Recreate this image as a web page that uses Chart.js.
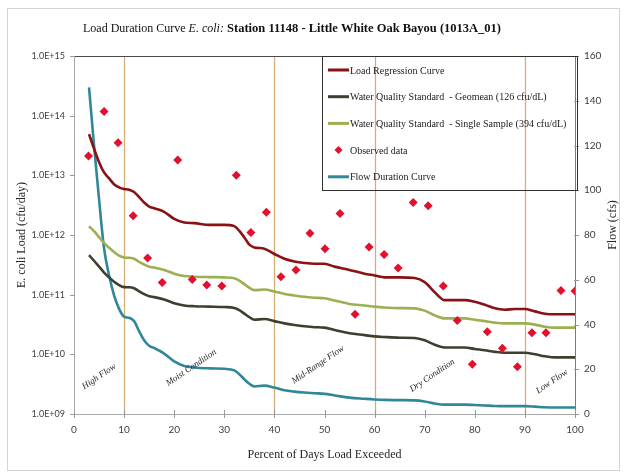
<!DOCTYPE html>
<html>
<head>
<meta charset="utf-8">
<script src="https://cdn.jsdelivr.net/npm/chart.js@4.4.1/dist/chart.umd.min.js"></script>
<style>
  html, body { margin: 0; padding: 0; background: #ffffff; }
  #wrap { position: relative; width: 625px; height: 472px; }
</style>
</head>
<body>
<div id="wrap"><canvas id="ldc" width="625" height="472"></canvas></div>
<script>
// Percent of days exceeded at which the duration curves are tabulated
const percentExceeded = [3, 4, 5, 6, 7, 8, 9, 10, 11, 12, 13, 14, 15, 16, 18, 20, 22, 24, 27, 30,
  32, 33, 34, 35, 36, 38, 40, 42, 44, 46, 48, 50, 52, 55, 58, 60, 62, 65, 68, 70,
  72, 74, 76, 78, 80, 82, 84, 86, 88, 90, 92, 94, 96, 100];

// Load regression curve (cfu/day)
const regressionLoad = [4.9e13, 2.8e13, 1.66e13, 1.12e13, 8.9e12, 7.1e12, 6.3e12, 5.9e12, 5.75e12, 5.25e12,
  4.3e12, 3.5e12, 3.0e12, 2.8e12, 2.45e12, 1.86e12, 1.62e12, 1.58e12, 1.48e12, 1.48e12,
  1.41e12, 1.17e12, 9.1e11, 6.9e11, 6.2e11, 5.9e11, 4.8e11, 4.0e11, 3.6e11, 3.4e11,
  3.3e11, 3.3e11, 2.95e11, 2.6e11, 2.24e11, 2.1e11, 1.95e11, 1.95e11, 1.9e11, 1.62e11,
  1.1e11, 8.1e10, 8.1e10, 8.1e10, 7.6e10, 6.8e10, 5.9e10, 5.6e10, 5.75e10, 5.75e10,
  5.25e10, 4.8e10, 4.7e10, 4.7e10];

// Allowable load at the geometric mean standard, 126 cfu/dL (cfu/day)
const geomeanLoad = [4.6e11, 3.7e11, 2.95e11, 2.35e11, 1.95e11, 1.65e11, 1.45e11, 1.34e11, 1.33e11, 1.28e11,
  1.14e11, 1.02e11, 9.4e10, 9.1e10, 8.3e10, 7.2e10, 6.6e10, 6.4e10, 6.3e10, 6.2e10,
  6.0e10, 5.5e10, 4.8e10, 4.2e10, 3.8e10, 3.9e10, 3.6e10, 3.3e10, 3.1e10, 2.95e10,
  2.85e10, 2.8e10, 2.55e10, 2.25e10, 2.1e10, 2.0e10, 1.95e10, 1.9e10, 1.88e10, 1.72e10,
  1.45e10, 1.3e10, 1.3e10, 1.3e10, 1.23e10, 1.17e10, 1.1e10, 1.06e10, 1.06e10, 1.06e10,
  1.0e10, 9.3e9, 8.9e9, 8.9e9];

// Allowable load at the single sample standard, 394 cfu/dL (cfu/day)
const singleSampleLoad = [1.4e12, 1.16e12, 9.2e11, 7.3e11, 6.1e11, 5.2e11, 4.5e11, 4.2e11, 4.15e11, 4.0e11,
  3.55e11, 3.2e11, 2.95e11, 2.85e11, 2.6e11, 2.25e11, 2.05e11, 2.0e11, 1.97e11, 1.95e11,
  1.88e11, 1.72e11, 1.5e11, 1.3e11, 1.19e11, 1.22e11, 1.13e11, 1.03e11, 9.7e10, 9.2e10,
  8.9e10, 8.7e10, 8.0e10, 7.0e10, 6.6e10, 6.3e10, 6.1e10, 5.95e10, 5.9e10, 5.4e10,
  4.5e10, 4.0e10, 4.0e10, 4.0e10, 3.8e10, 3.6e10, 3.4e10, 3.3e10, 3.3e10, 3.3e10,
  3.15e10, 2.9e10, 2.8e10, 2.8e10];

// Flow duration curve (cfs)
const flowCfs = [146, 120, 96, 74, 62, 53, 47, 43.5, 43, 41.5,
  37, 33, 30.5, 29.5, 27, 23.5, 21.5, 20.8, 20.4, 20.2,
  19.5, 17.8, 15.5, 13.5, 12.3, 12.7, 11.8, 10.6, 10.0, 9.6,
  9.3, 9.0, 8.3, 7.3, 6.8, 6.5, 6.3, 6.2, 6.1, 5.6,
  4.7, 4.2, 4.2, 4.2, 4.0, 3.8, 3.6, 3.5, 3.5, 3.5,
  3.3, 3.0, 2.9, 2.9];

// Observed E. coli loads
const observedPct = [2.9, 6.0, 8.8, 11.8, 14.7, 17.6, 20.7, 23.6, 26.5, 29.5,
  32.4, 35.3, 38.4, 41.3, 44.3, 47.1, 50.1, 53.1, 56.1, 58.9,
  61.9, 64.7, 67.7, 70.7, 73.7, 76.5, 79.5, 82.5, 85.5, 88.5,
  91.4, 94.2, 97.2, 100];
const observedLoad = [2.1e13, 1.17e14, 3.5e13, 2.1e12, 4.1e11, 1.6e11, 1.8e13, 1.8e11, 1.45e11, 1.4e11,
  1.0e13, 1.1e12, 2.4e12, 2.0e11, 2.6e11, 1.07e12, 5.9e11, 2.3e12, 4.7e10, 6.3e11,
  4.7e11, 2.8e11, 3.5e12, 3.1e12, 1.4e11, 3.7e10, 6.8e9, 2.4e10, 1.26e10, 6.2e9,
  2.3e10, 2.3e10, 1.18e11, 1.15e11];

// Axis ticks
const loadTicks = [1e9, 1e10, 1e11, 1e12, 1e13, 1e14, 1e15];
const flowTicks = [0, 20, 40, 60, 80, 100, 120, 140, 160];
const pctTicks = [0, 10, 20, 30, 40, 50, 60, 70, 80, 90, 100];

// Flow regime boundaries and names
const zoneBounds = [10, 40, 60, 90];
const zoneNames = ['High Flow', 'Moist Condition', 'Mid-Range Flow', 'Dry Condition', 'Low Flow'];

const SERIF = '"Liberation Serif", "Times New Roman", serif';
const SANS = 'Lato, "Liberation Sans", sans-serif';

const pairs = (xs, ys) => xs.map((x, i) => ({ x: x, y: ys[i] }));
const sci = v => {
  const e = Math.round(Math.log10(v));
  return '1.0E+' + (e < 10 ? '0' + e : String(e));
};

// Chart title, mixed roman / italic / bold runs
const titleRuns = [
  { text: 'Load Duration Curve ', font: '12px ' + SERIF },
  { text: 'E. coli:', font: 'italic 12px ' + SERIF },
  { text: ' Station 11148 - Little White Oak Bayou (1013A_01)', font: 'bold 12.5px ' + SERIF }
];

const decorPlugin = {
  id: 'decor',
  beforeDraw(chart) {
    const c = chart.ctx;
    c.save();
    c.fillStyle = '#ffffff';
    c.fillRect(0, 0, chart.width, chart.height);
    c.strokeStyle = '#d4d4d4';
    c.lineWidth = 1;
    c.strokeRect(7.5, 8.5, 612, 462);
    c.restore();
  },
  beforeDatasetsDraw(chart) {
    const c = chart.ctx, a = chart.chartArea, x = chart.scales.x;
    c.save();
    c.strokeStyle = '#d6ad72';
    c.lineWidth = 1.3;
    zoneBounds.forEach(v => {
      const px = Math.round(x.getPixelForValue(v)) + 0.5;
      c.beginPath(); c.moveTo(px, a.top); c.lineTo(px, a.bottom); c.stroke();
    });
    // top border of the plot area
    c.strokeStyle = '#4a4a4a';
    c.lineWidth = 1;
    c.beginPath(); c.moveTo(a.left, Math.round(a.top) + 0.5); c.lineTo(a.right, Math.round(a.top) + 0.5); c.stroke();
    c.restore();
  },
  afterDraw(chart) {
    const c = chart.ctx, a = chart.chartArea;
    const sx = chart.scales.x, sy = chart.scales.y, sf = chart.scales.y1;
    c.save();

    // tick marks crossing the axis lines
    c.strokeStyle = '#9a9a9a';
    c.lineWidth = 1;
    pctTicks.forEach(v => {
      const px = Math.round(sx.getPixelForValue(v)) + 0.5;
      c.beginPath(); c.moveTo(px, a.bottom - 4); c.lineTo(px, a.bottom + 4); c.stroke();
    });
    loadTicks.forEach(v => {
      const py = Math.round(sy.getPixelForValue(v)) + 0.5;
      c.beginPath(); c.moveTo(a.left - 4, py); c.lineTo(a.left + 1, py); c.stroke();
    });
    flowTicks.forEach(v => {
      const py = Math.round(sf.getPixelForValue(v)) + 0.5;
      c.beginPath(); c.moveTo(a.right - 1, py); c.lineTo(a.right + 4, py); c.stroke();
    });

    // title
    c.fillStyle = '#111111';
    c.textBaseline = 'middle';
    c.textAlign = 'left';
    let total = 0;
    titleRuns.forEach(r => { c.font = r.font; total += c.measureText(r.text).width; });
    let tx = 292 - total / 2;
    titleRuns.forEach(r => { c.font = r.font; c.fillText(r.text, tx, 29); tx += c.measureText(r.text).width; });

    // right axis title
    c.save();
    c.translate(613, (a.top + a.bottom) / 2 - 10);
    c.rotate(-Math.PI / 2);
    c.textAlign = 'center';
    c.font = '12px ' + SERIF;
    c.fillStyle = '#262626';
    c.fillText('Flow (cfs)', 0, 0);
    c.restore();

    // flow regime labels
    const zonePos = [[5, 16.7], [23.4, 20.7], [48.7, 22], [71.5, 17.2], [95.4, 14.5]];
    c.font = 'italic 9px ' + SERIF;
    c.fillStyle = '#262626';
    zoneNames.forEach((name, i) => {
      c.save();
      c.translate(sx.getPixelForValue(zonePos[i][0]), sf.getPixelForValue(zonePos[i][1]));
      c.rotate(-34 * Math.PI / 180);
      c.textAlign = 'center';
      c.fillText(name, 0, 0);
      c.restore();
    });

    // legend box
    const box = { l: 322, t: Math.round(a.top), r: Math.round(a.right) + 2, b: 190 };
    c.strokeStyle = '#303030';
    c.lineWidth = 1;
    c.strokeRect(box.l + 0.5, box.t + 0.5, box.r - box.l, box.b - box.t);
    const order = ['Load Regression Curve',
      'Water Quality Standard  - Geomean (126 cfu/dL)',
      'Water Quality Standard  - Single Sample (394 cfu/dL)',
      'Observed data',
      'Flow Duration Curve'];
    c.font = '10px ' + SERIF;
    c.textAlign = 'left';
    order.forEach((label, i) => {
      const ds = chart.data.datasets.find(d => d.label === label);
      const y = 70 + i * 26.7;
      if (ds.showLine === false) {
        c.fillStyle = ds.backgroundColor;
        c.beginPath();
        c.moveTo(338.5, y - 4); c.lineTo(342.5, y); c.lineTo(338.5, y + 4); c.lineTo(334.5, y);
        c.closePath(); c.fill();
      } else {
        c.strokeStyle = ds.borderColor;
        c.lineWidth = 3;
        c.beginPath(); c.moveTo(328, y); c.lineTo(349, y); c.stroke();
      }
      c.fillStyle = '#1a1a1a';
      c.fillText(label, 350, y + 1);
    });
    c.restore();
  }
};

new Chart(document.getElementById('ldc'), {
  type: 'line',
  data: {
    datasets: [
      {
        label: 'Observed data',
        type: 'scatter',
        data: pairs(observedPct, observedLoad),
        yAxisID: 'y',
        showLine: false,
        pointStyle: 'rectRot',
        pointRadius: 4.5,
        pointBorderWidth: 0,
        backgroundColor: '#e2102c',
        borderColor: '#e2102c',
        order: 0
      },
      {
        label: 'Load Regression Curve',
        data: pairs(percentExceeded, regressionLoad),
        yAxisID: 'y',
        borderColor: '#8a1214',
        borderWidth: 2.6,
        pointRadius: 0,
        cubicInterpolationMode: 'monotone',
        order: 1
      },
      {
        label: 'Water Quality Standard  - Geomean (126 cfu/dL)',
        data: pairs(percentExceeded, geomeanLoad),
        yAxisID: 'y',
        borderColor: '#3f3f30',
        borderWidth: 2.6,
        pointRadius: 0,
        cubicInterpolationMode: 'monotone',
        order: 2
      },
      {
        label: 'Water Quality Standard  - Single Sample (394 cfu/dL)',
        data: pairs(percentExceeded, singleSampleLoad),
        yAxisID: 'y',
        borderColor: '#9bb053',
        borderWidth: 2.6,
        pointRadius: 0,
        cubicInterpolationMode: 'monotone',
        order: 3
      },
      {
        label: 'Flow Duration Curve',
        data: pairs(percentExceeded, flowCfs),
        yAxisID: 'y1',
        borderColor: '#2f8799',
        borderWidth: 2.6,
        pointRadius: 0,
        cubicInterpolationMode: 'monotone',
        order: 4
      }
    ]
  },
  options: {
    responsive: false,
    animation: false,
    devicePixelRatio: 1,
    layout: { padding: { top: 56, left: 0, right: 0, bottom: 0 } },
    plugins: { legend: { display: false }, tooltip: { enabled: false } },
    scales: {
      x: {
        type: 'linear',
        min: 0, max: 100,
        afterBuildTicks: s => { s.ticks = pctTicks.map(v => ({ value: v })); },
        afterFit: s => { s.height = 58; },
        grid: { drawOnChartArea: false, drawTicks: false },
        border: { color: '#a8a8a8' },
        ticks: { padding: 10, color: '#404040', font: { family: SANS, size: 10 } },
        title: {
          display: true, text: 'Percent of Days Load Exceeded', color: '#262626',
          font: { family: SERIF, size: 12 }, padding: { top: 0, bottom: 10 }
        }
      },
      y: {
        type: 'logarithmic',
        position: 'left',
        min: 1e9, max: 1e15,
        afterBuildTicks: s => { s.ticks = loadTicks.map(v => ({ value: v })); },
        afterFit: s => { s.width = 74; },
        grid: { drawOnChartArea: false, drawTicks: false },
        border: { color: '#a8a8a8' },
        ticks: { padding: 9, color: '#404040', font: { family: SANS, size: 9 }, callback: v => sci(v) },
        title: {
          display: true, text: 'E. coli Load (cfu/day)', color: '#262626',
          font: { family: SERIF, size: 12 }, padding: { top: 15, bottom: 0 }
        }
      },
      y1: {
        type: 'linear',
        position: 'right',
        min: 0, max: 160,
        afterBuildTicks: s => { s.ticks = flowTicks.map(v => ({ value: v })); },
        afterFit: s => { s.width = 50; },
        grid: { drawOnChartArea: false, drawTicks: false },
        border: { color: '#7a7a7a' },
        ticks: { padding: 9, color: '#404040', font: { family: SANS, size: 10 } }
      }
    }
  },
  plugins: [decorPlugin]
});
</script>
</body>
</html>
